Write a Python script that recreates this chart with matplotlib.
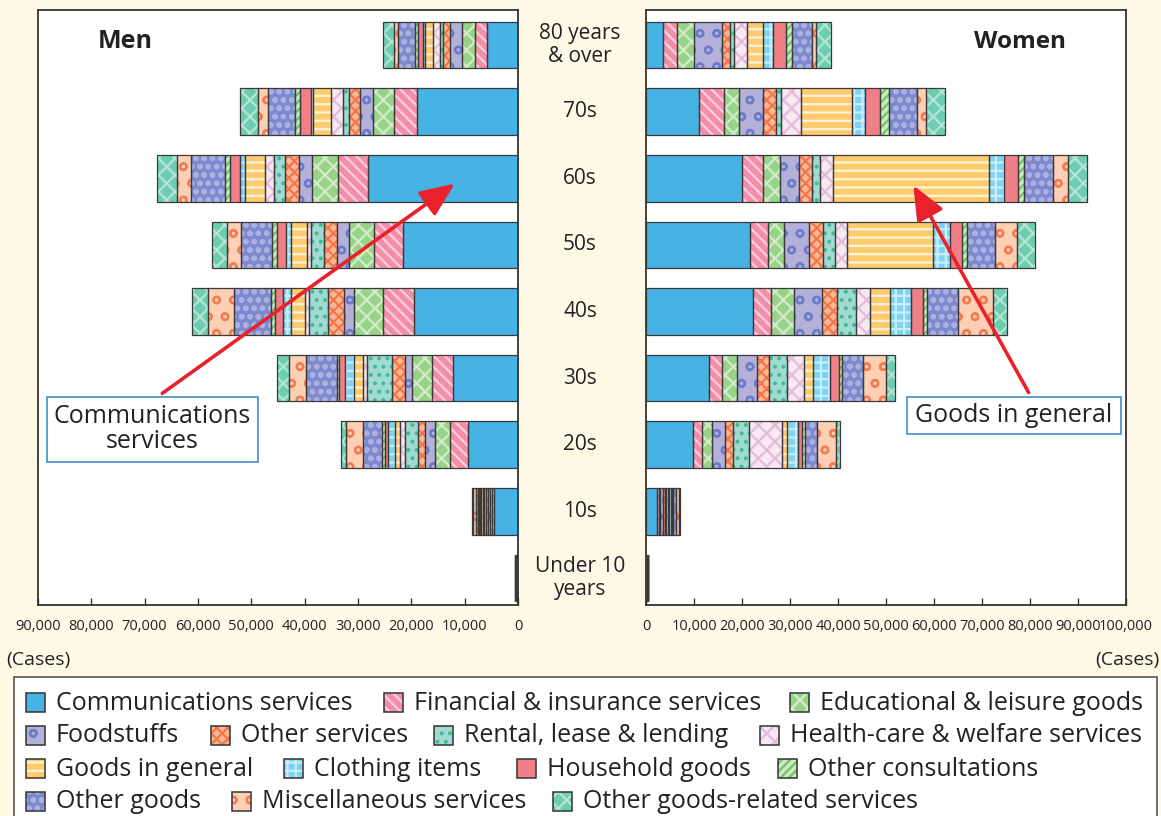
import matplotlib
matplotlib.use("Agg")
import matplotlib.pyplot as plt
from matplotlib import font_manager
from matplotlib.patches import Rectangle, FancyArrowPatch
import numpy as np

plt.rcParams['font.family'] = ['Open Sans', 'DejaVu Sans']
plt.rcParams['hatch.linewidth'] = 1.6

# ---------------- data ----------------
age_groups = ["Under 10\nyears", "10s", "20s", "30s", "40s", "50s", "60s", "70s", "80 years\n& over"]

categories = ["Communications services", "Financial & insurance services", "Educational & leisure goods",
              "Foodstuffs", "Other services", "Rental, lease & lending", "Health-care & welfare services",
              "Goods in general", "Clothing items", "Household goods", "Other consultations",
              "Other goods", "Miscellaneous services", "Other goods-related services"]

# Men (order: Under 10, 10s, 20s, 30s, 40s, 50s, 60s, 70s, 80+)
men_comm     = [300, 4500, 9375, 12125, 19500, 21625, 28190, 18940, 5870]
men_fin      = [30, 375, 3375, 4060, 5750, 5375, 5560, 4375, 2190]
men_edu      = [30, 375, 2800, 3750, 5500, 4690, 4875, 3875, 2500]
men_food     = [20, 375, 1875, 1250, 1875, 2190, 2500, 2375, 2190]
men_othsvc   = [20, 375, 1300, 2500, 2940, 2440, 2500, 2125, 1250]
men_rental   = [10, 375, 2440, 4690, 3625, 2500, 2060, 1125, 625]
men_health   = [10, 190, 940, 625, 750, 810, 1690, 2190, 1250]
men_goods    = [10, 375, 940, 1690, 2625, 2940, 3750, 3440, 1560]
men_cloth    = [10, 190, 1300, 1750, 1560, 1000, 940, 440, 300]
men_house    = [10, 190, 560, 1060, 1440, 1560, 2000, 2060, 1050]
men_othcons  = [10, 190, 560, 500, 810, 940, 940, 940, 500]
men_othgoods = [20, 375, 3560, 5810, 6875, 5875, 6310, 5000, 3125]
men_misc     = [20, 560, 3190, 3060, 4810, 2690, 2625, 1875, 800]
men_ogr      = [10, 190, 940, 2250, 3125, 2810, 3750, 3440, 2125]

# Women
women_comm     = [200, 2290, 9790, 13190, 22220, 21670, 19930, 11110, 3610]
women_fin      = [20, 420, 1875, 2570, 3820, 3680, 4510, 5140, 2920]
women_edu      = [20, 210, 2080, 3260, 4790, 3470, 3470, 3190, 3470]
women_food     = [20, 625, 2700, 4030, 5900, 5210, 4030, 5000, 5760]
women_othsvc   = [20, 420, 1670, 2570, 3125, 2780, 2570, 2570, 1740]
women_rental   = [10, 210, 3330, 3820, 3890, 2570, 1740, 1040, 830]
women_health   = [10, 420, 6875, 3470, 2920, 2430, 2780, 4170, 2640]
women_goods    = [10, 210, 1040, 1940, 4170, 17920, 32500, 10760, 3470]
women_cloth    = [10, 420, 2290, 3470, 4375, 3610, 3060, 2640, 2080]
women_house    = [10, 210, 830, 1875, 2430, 2570, 2990, 3125, 2570]
women_othcons  = [10, 210, 625, 690, 970, 1040, 1250, 1940, 1250]
women_othgoods = [20, 625, 2500, 4375, 6460, 5760, 6040, 5690, 4170]
women_misc     = [20, 625, 3960, 4790, 7150, 4650, 2990, 1940, 900]
women_ogr      = [10, 210, 830, 1875, 2920, 3680, 3960, 3960, 3060]

men_ticks = [90000, 80000, 70000, 60000, 50000, 40000, 30000, 20000, 10000, 0]
women_ticks = [0, 10000, 20000, 30000, 40000, 50000, 60000, 70000, 80000, 90000, 100000]

men_series = [men_comm, men_fin, men_edu, men_food, men_othsvc, men_rental, men_health,
              men_goods, men_cloth, men_house, men_othcons, men_othgoods, men_misc, men_ogr]
women_series = [women_comm, women_fin, women_edu, women_food, women_othsvc, women_rental, women_health,
                women_goods, women_cloth, women_house, women_othcons, women_othgoods, women_misc, women_ogr]

# ---------------- styles: (face, hatch, hatch colour) ----------------
styles = [
    ("#47B2E4", None, None),           # Communications
    ("#F48DA8", "\\\\\\", "#FBD0DC"),  # Financial
    ("#98D389", "xx", "#D2EDC8"),      # Educational
    ("#B3B1DA", "o", "#6B7BC9"),       # Foodstuffs
    ("#FBB896", "xxx", "#F57549"),     # Other services
    ("#A0DAD3", "..", "#3FBA8C"),      # Rental
    ("#F7E8F2", "xx", "#E3BCD9"),      # Health-care
    ("#FFCB6F", "--", "#FFF3DA"),      # Goods in general
    ("#7ED2F2", "++", "#C9EEFB"),      # Clothing
    ("#F17F88", None, None),           # Household
    ("#CBEAC1", "////", "#73C263"),    # Other consultations
    ("#7E89CD", "oo", "#AAB0E0"),      # Other goods
    ("#FDCFB3", "o", "#F47C54"),       # Misc
    ("#6DCDB0", "xx", "#B4E6D6"),      # Other goods-related
]

# tick-label font: a narrow face if available
available = {f.name for f in font_manager.fontManager.ttflist}
if "Liberation Sans Narrow" in available:
    tick_family, tick_size = ["Liberation Sans Narrow", "DejaVu Sans"], 13
else:
    tick_family, tick_size = ["Open Sans", "DejaVu Sans"], 10.5

W, H = 1161, 816
fig = plt.figure(figsize=(W / 100, H / 100), dpi=100)
fig.patch.set_facecolor("#FEF9E6")

def px_axes(x0, y0, x1, y1):
    return fig.add_axes([x0 / W, 1 - y1 / H, (x1 - x0) / W, (y1 - y0) / H])

ax_m = px_axes(38, 10, 518, 605)
ax_w = px_axes(646, 10, 1126, 605)

ypos = np.arange(len(age_groups))
bar_h = 0.70

def draw(ax, series):
    left = np.zeros(len(age_groups))
    for vals, (fc, hatch, hc) in zip(series, styles):
        vals = np.array(vals, dtype=float)
        ax.barh(ypos, vals, left=left, height=bar_h, color=fc, hatch=hatch,
                edgecolor=hc if hc else fc, linewidth=0, zorder=2)
        ax.barh(ypos, vals, left=left, height=bar_h, facecolor="none",
                edgecolor="#3a3a3a", linewidth=0.9, zorder=3)
        left += vals

draw(ax_m, men_series)
draw(ax_w, women_series)

for ax in (ax_m, ax_w):
    ax.set_facecolor("white")
    ax.set_ylim(-0.405, 8.525)
    ax.set_yticks([])
    for s in ax.spines.values():
        s.set_color("#333333")
        s.set_linewidth(1.3)
    ax.tick_params(axis="x", direction="in", length=5, width=1, color="#333333",
                   labelsize=tick_size, labelcolor="#222222", pad=10)

ax_m.set_xlim(90000, 0)
ax_m.set_xticks(men_ticks)
ax_m.set_xticklabels([f"{t:,}" for t in men_ticks], family=tick_family)
ax_w.set_xlim(0, 100000)
ax_w.set_xticks(women_ticks)
ax_w.set_xticklabels([f"{t:,}" for t in women_ticks], family=tick_family)

# overlay in pixel coordinates for annotations
ov = fig.add_axes([0, 0, 1, 1], facecolor="none")
ov.set_xlim(0, W)
ov.set_ylim(H, 0)
ov.axis("off")

txt = "#222222"
ov.text(125, 42, "Men", fontsize=18, fontweight="bold", ha="center", va="center", color=txt)
ov.text(1020, 42, "Women", fontsize=17.5, fontweight="bold", ha="center", va="center", color=txt)

# centre age labels, positioned using the bar y positions
for i, lab in enumerate(age_groups):
    yfig = ax_m.transData.transform((0, ypos[i]))[1]
    ypix = H - yfig
    ov.text(580, ypix, lab, fontsize=15, ha="center", va="center", color=txt, linespacing=1.1)

ov.text(38, 660, "(Cases)", fontsize=14, ha="center", va="center", color=txt)
ov.text(1127, 660, "(Cases)", fontsize=14, ha="center", va="center", color=txt)

# annotation boxes and arrows
ov.add_patch(Rectangle((47, 397), 211, 65, facecolor="white", edgecolor="#3E8FC9", linewidth=1.2, zorder=5))
ov.text(152, 429, "Communications\nservices", fontsize=18, ha="center", va="center", color=txt,
        linespacing=1.0, zorder=6)
ov.add_patch(Rectangle((907, 397), 214, 37, facecolor="white", edgecolor="#3E8FC9", linewidth=1.2, zorder=5))
ov.text(1014, 415, "Goods in general", fontsize=18, ha="center", va="center", color=txt, zorder=6)

for (x0, y0), (x1, y1) in [((160, 395), (457, 182)), ((1030, 395), (912, 183))]:
    ov.add_patch(FancyArrowPatch((x0, y0), (x1, y1), arrowstyle="-|>,head_length=14,head_width=6",
                                 color="#E8212B", linewidth=2.6, mutation_scale=1.5, zorder=6))

# legend
ov.add_patch(Rectangle((14, 677), 1143, 145, facecolor="white", edgecolor="#555555", linewidth=1.2, zorder=4))
legend_layout = [
    (0, 26, 702), (1, 384, 702), (2, 790, 702),
    (3, 26, 735), (4, 211, 735), (5, 434, 735), (6, 760, 735),
    (7, 26, 768), (8, 284, 768), (9, 517, 768), (10, 778, 768),
    (11, 26, 801), (12, 232, 801), (13, 553, 801),
]
for idx, x, y in legend_layout:
    fc, hatch, hc = styles[idx]
    ov.add_patch(Rectangle((x, y - 9), 19, 19, facecolor=fc, hatch=hatch,
                           edgecolor=hc if hc else fc, linewidth=0, zorder=5))
    ov.add_patch(Rectangle((x, y - 9), 19, 19, facecolor="none", edgecolor="#333333",
                           linewidth=1.1, zorder=6))
    ov.text(x + 30, y + 1, categories[idx], fontsize=18, ha="left", va="center", color=txt, zorder=6)

fig.savefig("out.png", dpi=100, facecolor=fig.get_facecolor())
